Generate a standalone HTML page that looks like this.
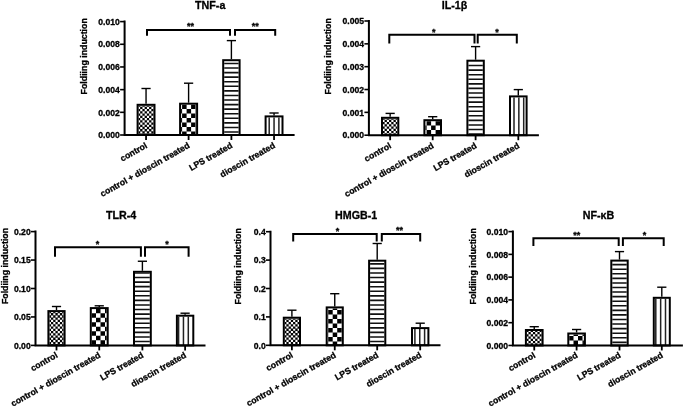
<!DOCTYPE html>
<html><head><meta charset="utf-8"><title>Folding induction charts</title>
<style>html,body{margin:0;padding:0;background:#fff;}body{width:685px;height:408px;overflow:hidden;}svg{display:block;}</style>
</head><body>
<svg width="685" height="408" viewBox="0 0 685 408">
<rect width="685" height="408" fill="#fff"/>
<g font-family='"Liberation Sans", Arial, sans-serif' font-weight="bold" fill="#000" stroke="#000" stroke-width="0.3">
<text x="210.2" y="8.8" font-size="10.7" text-anchor="middle">TNF-a</text>
<line x1="146.05" y1="88.5" x2="146.05" y2="103.8" stroke="#000" stroke-width="1.4"/>
<line x1="141.45" y1="88.5" x2="150.65" y2="88.5" stroke="#000" stroke-width="1.4"/>
<rect x="138.6" y="105.8" width="14.9" height="29.2" fill="#000" stroke="none"/><path d="M140.24 105.80H142.39V106.79H140.24ZM144.70 105.80H146.85V106.79H144.70ZM149.16 105.80H151.31V106.79H149.16ZM138.60 106.87H140.16V109.02H138.60ZM142.47 106.87H144.62V109.02H142.47ZM146.93 106.87H149.08V109.02H146.93ZM151.39 106.87H153.50V109.02H151.39ZM140.24 109.10H142.39V111.25H140.24ZM144.70 109.10H146.85V111.25H144.70ZM149.16 109.10H151.31V111.25H149.16ZM138.60 111.33H140.16V113.48H138.60ZM142.47 111.33H144.62V113.48H142.47ZM146.93 111.33H149.08V113.48H146.93ZM151.39 111.33H153.50V113.48H151.39ZM140.24 113.56H142.39V115.71H140.24ZM144.70 113.56H146.85V115.71H144.70ZM149.16 113.56H151.31V115.71H149.16ZM138.60 115.79H140.16V117.94H138.60ZM142.47 115.79H144.62V117.94H142.47ZM146.93 115.79H149.08V117.94H146.93ZM151.39 115.79H153.50V117.94H151.39ZM140.24 118.02H142.39V120.17H140.24ZM144.70 118.02H146.85V120.17H144.70ZM149.16 118.02H151.31V120.17H149.16ZM138.60 120.25H140.16V122.40H138.60ZM142.47 120.25H144.62V122.40H142.47ZM146.93 120.25H149.08V122.40H146.93ZM151.39 120.25H153.50V122.40H151.39ZM140.24 122.48H142.39V124.63H140.24ZM144.70 122.48H146.85V124.63H144.70ZM149.16 122.48H151.31V124.63H149.16ZM138.60 124.71H140.16V126.86H138.60ZM142.47 124.71H144.62V126.86H142.47ZM146.93 124.71H149.08V126.86H146.93ZM151.39 124.71H153.50V126.86H151.39ZM140.24 126.94H142.39V129.09H140.24ZM144.70 126.94H146.85V129.09H144.70ZM149.16 126.94H151.31V129.09H149.16ZM138.60 129.17H140.16V131.32H138.60ZM142.47 129.17H144.62V131.32H142.47ZM146.93 129.17H149.08V131.32H146.93ZM151.39 129.17H153.50V131.32H151.39ZM140.24 131.40H142.39V133.55H140.24ZM144.70 131.40H146.85V133.55H144.70ZM149.16 131.40H151.31V133.55H149.16ZM138.60 133.63H140.16V135.00H138.60ZM142.47 133.63H144.62V135.00H142.47ZM146.93 133.63H149.08V135.00H146.93ZM151.39 133.63H153.50V135.00H151.39Z" fill="#fff" stroke="none"/>
<rect x="137.6" y="104.8" width="16.9" height="30.2" fill="none" stroke="#000" stroke-width="2.0"/>
<line x1="146.05" y1="135" x2="146.05" y2="140" stroke="#000" stroke-width="1.8"/>
<text transform="translate(147.85,147.2) rotate(-29.5)" font-size="8.7" text-anchor="end">control</text>
<line x1="188.6" y1="83.2" x2="188.6" y2="102.7" stroke="#000" stroke-width="1.4"/>
<line x1="184" y1="83.2" x2="193.2" y2="83.2" stroke="#000" stroke-width="1.4"/>
<rect x="181.1" y="104.7" width="15" height="30.3" fill="#fff" stroke="none"/><path d="M182.10 104.70H186.60V108.90H182.10ZM191.10 104.70H195.60V108.90H191.10ZM181.10 108.90H182.10V113.40H181.10ZM186.60 108.90H191.10V113.40H186.60ZM195.60 108.90H196.10V113.40H195.60ZM182.10 113.40H186.60V117.90H182.10ZM191.10 113.40H195.60V117.90H191.10ZM181.10 117.90H182.10V122.40H181.10ZM186.60 117.90H191.10V122.40H186.60ZM195.60 117.90H196.10V122.40H195.60ZM182.10 122.40H186.60V126.90H182.10ZM191.10 122.40H195.60V126.90H191.10ZM181.10 126.90H182.10V131.40H181.10ZM186.60 126.90H191.10V131.40H186.60ZM195.60 126.90H196.10V131.40H195.60ZM182.10 131.40H186.60V135.00H182.10ZM191.10 131.40H195.60V135.00H191.10Z" fill="#000" stroke="none"/>
<rect x="180.1" y="103.7" width="17" height="31.3" fill="none" stroke="#000" stroke-width="2.0"/>
<line x1="188.6" y1="135" x2="188.6" y2="140" stroke="#000" stroke-width="1.8"/>
<text transform="translate(190.4,147.2) rotate(-29.5)" font-size="8.7" text-anchor="end">control + dioscin treated</text>
<line x1="231.4" y1="40.6" x2="231.4" y2="59.2" stroke="#000" stroke-width="1.4"/>
<line x1="226.8" y1="40.6" x2="236" y2="40.6" stroke="#000" stroke-width="1.4"/>
<rect x="224.2" y="61.2" width="14.4" height="73.8" fill="#fff" stroke="none"/><path d="M224.20 62.65H238.60V64.25H224.20ZM224.20 67.22H238.60V68.82H224.20ZM224.20 71.79H238.60V73.39H224.20ZM224.20 76.36H238.60V77.96H224.20ZM224.20 80.93H238.60V82.53H224.20ZM224.20 85.50H238.60V87.10H224.20ZM224.20 90.07H238.60V91.67H224.20ZM224.20 94.64H238.60V96.24H224.20ZM224.20 99.21H238.60V100.81H224.20ZM224.20 103.78H238.60V105.38H224.20ZM224.20 108.35H238.60V109.95H224.20ZM224.20 112.92H238.60V114.52H224.20ZM224.20 117.49H238.60V119.09H224.20ZM224.20 122.06H238.60V123.66H224.20ZM224.20 126.63H238.60V128.23H224.20ZM224.20 131.20H238.60V132.80H224.20Z" fill="#111" stroke="none"/>
<rect x="223.2" y="60.2" width="16.4" height="74.8" fill="none" stroke="#000" stroke-width="2.0"/>
<line x1="231.4" y1="135" x2="231.4" y2="140" stroke="#000" stroke-width="1.8"/>
<text transform="translate(233.2,147.2) rotate(-29.5)" font-size="8.7" text-anchor="end">LPS treated</text>
<line x1="274.05" y1="113" x2="274.05" y2="115.4" stroke="#000" stroke-width="1.4"/>
<line x1="269.45" y1="113" x2="278.65" y2="113" stroke="#000" stroke-width="1.4"/>
<rect x="266.6" y="117.4" width="14.9" height="17.6" fill="#fff" stroke="none"/><path d="M268.45 117.40H269.95V135.00H268.45ZM273.30 117.40H274.80V135.00H273.30ZM278.15 117.40H279.65V135.00H278.15Z" fill="#222" stroke="none"/>
<rect x="265.6" y="116.4" width="16.9" height="18.6" fill="none" stroke="#000" stroke-width="2.0"/>
<line x1="274.05" y1="135" x2="274.05" y2="140" stroke="#000" stroke-width="1.8"/>
<text transform="translate(275.85,147.2) rotate(-29.5)" font-size="8.7" text-anchor="end">dioscin treated</text>
<path d="M124.6 20.6V135H294.6" fill="none" stroke="#000" stroke-width="2.0"/>
<line x1="120.1" y1="135" x2="124.6" y2="135" stroke="#000" stroke-width="1.6"/>
<text x="119.8" y="138.2" font-size="8.6" text-anchor="end">0.000</text>
<line x1="120.1" y1="112.32" x2="124.6" y2="112.32" stroke="#000" stroke-width="1.6"/>
<text x="119.8" y="115.52" font-size="8.6" text-anchor="end">0.002</text>
<line x1="120.1" y1="89.64" x2="124.6" y2="89.64" stroke="#000" stroke-width="1.6"/>
<text x="119.8" y="92.84" font-size="8.6" text-anchor="end">0.004</text>
<line x1="120.1" y1="66.96" x2="124.6" y2="66.96" stroke="#000" stroke-width="1.6"/>
<text x="119.8" y="70.16" font-size="8.6" text-anchor="end">0.006</text>
<line x1="120.1" y1="44.28" x2="124.6" y2="44.28" stroke="#000" stroke-width="1.6"/>
<text x="119.8" y="47.48" font-size="8.6" text-anchor="end">0.008</text>
<line x1="120.1" y1="21.6" x2="124.6" y2="21.6" stroke="#000" stroke-width="1.6"/>
<text x="119.8" y="24.8" font-size="8.6" text-anchor="end">0.010</text>
<text transform="translate(86.6,56.3) rotate(-90)" font-size="8.8" text-anchor="middle">Foldiing induction</text>
<path d="M147 35.7V29.9H230V35.7" fill="none" stroke="#000" stroke-width="2.0"/>
<path d="M235 35.7V29.9H275.2V35.7" fill="none" stroke="#000" stroke-width="2.0"/>
<text x="190.4" y="28.7" font-size="9.0" text-anchor="middle">**</text>
<text x="255.3" y="28.5" font-size="9.0" text-anchor="middle">**</text>
<text x="454.5" y="8.8" font-size="10.7" text-anchor="middle">IL-1β</text>
<line x1="390.15" y1="113.4" x2="390.15" y2="116.8" stroke="#000" stroke-width="1.4"/>
<line x1="385.55" y1="113.4" x2="394.75" y2="113.4" stroke="#000" stroke-width="1.4"/>
<rect x="383" y="118.8" width="14.3" height="16.4" fill="#000" stroke="none"/><path d="M384.64 118.80H386.79V119.79H384.64ZM389.10 118.80H391.25V119.79H389.10ZM393.56 118.80H395.71V119.79H393.56ZM383.00 119.87H384.56V122.02H383.00ZM386.87 119.87H389.02V122.02H386.87ZM391.33 119.87H393.48V122.02H391.33ZM395.79 119.87H397.30V122.02H395.79ZM384.64 122.10H386.79V124.25H384.64ZM389.10 122.10H391.25V124.25H389.10ZM393.56 122.10H395.71V124.25H393.56ZM383.00 124.33H384.56V126.48H383.00ZM386.87 124.33H389.02V126.48H386.87ZM391.33 124.33H393.48V126.48H391.33ZM395.79 124.33H397.30V126.48H395.79ZM384.64 126.56H386.79V128.71H384.64ZM389.10 126.56H391.25V128.71H389.10ZM393.56 126.56H395.71V128.71H393.56ZM383.00 128.79H384.56V130.94H383.00ZM386.87 128.79H389.02V130.94H386.87ZM391.33 128.79H393.48V130.94H391.33ZM395.79 128.79H397.30V130.94H395.79ZM384.64 131.02H386.79V133.17H384.64ZM389.10 131.02H391.25V133.17H389.10ZM393.56 131.02H395.71V133.17H393.56ZM383.00 133.25H384.56V135.20H383.00ZM386.87 133.25H389.02V135.20H386.87ZM391.33 133.25H393.48V135.20H391.33ZM395.79 133.25H397.30V135.20H395.79Z" fill="#fff" stroke="none"/>
<rect x="382" y="117.8" width="16.3" height="17.4" fill="none" stroke="#000" stroke-width="2.0"/>
<line x1="390.15" y1="135.2" x2="390.15" y2="140.2" stroke="#000" stroke-width="1.8"/>
<text transform="translate(391.95,147.4) rotate(-29.5)" font-size="8.7" text-anchor="end">control</text>
<line x1="432.7" y1="116.7" x2="432.7" y2="119.2" stroke="#000" stroke-width="1.4"/>
<line x1="428.1" y1="116.7" x2="437.3" y2="116.7" stroke="#000" stroke-width="1.4"/>
<rect x="425.4" y="121.2" width="14.6" height="14" fill="#fff" stroke="none"/><path d="M426.60 121.20H431.10V125.50H426.60ZM435.60 121.20H440.00V125.50H435.60ZM425.40 125.50H426.60V130.00H425.40ZM431.10 125.50H435.60V130.00H431.10ZM426.60 130.00H431.10V134.50H426.60ZM435.60 130.00H440.00V134.50H435.60ZM425.40 134.50H426.60V135.20H425.40ZM431.10 134.50H435.60V135.20H431.10Z" fill="#000" stroke="none"/>
<rect x="424.4" y="120.2" width="16.6" height="15" fill="none" stroke="#000" stroke-width="2.0"/>
<line x1="432.7" y1="135.2" x2="432.7" y2="140.2" stroke="#000" stroke-width="1.8"/>
<text transform="translate(434.5,147.4) rotate(-29.5)" font-size="8.7" text-anchor="end">control + dioscin treated</text>
<line x1="475.6" y1="46.6" x2="475.6" y2="59.7" stroke="#000" stroke-width="1.4"/>
<line x1="471" y1="46.6" x2="480.2" y2="46.6" stroke="#000" stroke-width="1.4"/>
<rect x="468.4" y="61.7" width="14.4" height="73.5" fill="#fff" stroke="none"/><path d="M468.40 64.75H482.80V66.35H468.40ZM468.40 69.32H482.80V70.92H468.40ZM468.40 73.89H482.80V75.49H468.40ZM468.40 78.46H482.80V80.06H468.40ZM468.40 83.03H482.80V84.63H468.40ZM468.40 87.60H482.80V89.20H468.40ZM468.40 92.17H482.80V93.77H468.40ZM468.40 96.74H482.80V98.34H468.40ZM468.40 101.31H482.80V102.91H468.40ZM468.40 105.88H482.80V107.48H468.40ZM468.40 110.45H482.80V112.05H468.40ZM468.40 115.02H482.80V116.62H468.40ZM468.40 119.59H482.80V121.19H468.40ZM468.40 124.16H482.80V125.76H468.40ZM468.40 128.73H482.80V130.33H468.40ZM468.40 133.30H482.80V134.90H468.40Z" fill="#111" stroke="none"/>
<rect x="467.4" y="60.7" width="16.4" height="74.5" fill="none" stroke="#000" stroke-width="2.0"/>
<line x1="475.6" y1="135.2" x2="475.6" y2="140.2" stroke="#000" stroke-width="1.8"/>
<text transform="translate(477.4,147.4) rotate(-29.5)" font-size="8.7" text-anchor="end">LPS treated</text>
<line x1="518.3" y1="89.6" x2="518.3" y2="95.4" stroke="#000" stroke-width="1.4"/>
<line x1="513.7" y1="89.6" x2="522.9" y2="89.6" stroke="#000" stroke-width="1.4"/>
<rect x="511" y="97.4" width="14.6" height="37.8" fill="#fff" stroke="none"/><path d="M513.25 97.40H514.75V135.20H513.25ZM518.10 97.40H519.60V135.20H518.10ZM522.95 97.40H524.45V135.20H522.95Z" fill="#222" stroke="none"/>
<rect x="510" y="96.4" width="16.6" height="38.8" fill="none" stroke="#000" stroke-width="2.0"/>
<line x1="518.3" y1="135.2" x2="518.3" y2="140.2" stroke="#000" stroke-width="1.8"/>
<text transform="translate(520.1,147.4) rotate(-29.5)" font-size="8.7" text-anchor="end">dioscin treated</text>
<path d="M368.9 20V135.2H538.9" fill="none" stroke="#000" stroke-width="2.0"/>
<line x1="364.4" y1="135.2" x2="368.9" y2="135.2" stroke="#000" stroke-width="1.6"/>
<text x="364.1" y="138.4" font-size="8.6" text-anchor="end">0.000</text>
<line x1="364.4" y1="112.36" x2="368.9" y2="112.36" stroke="#000" stroke-width="1.6"/>
<text x="364.1" y="115.56" font-size="8.6" text-anchor="end">0.001</text>
<line x1="364.4" y1="89.52" x2="368.9" y2="89.52" stroke="#000" stroke-width="1.6"/>
<text x="364.1" y="92.72" font-size="8.6" text-anchor="end">0.002</text>
<line x1="364.4" y1="66.68" x2="368.9" y2="66.68" stroke="#000" stroke-width="1.6"/>
<text x="364.1" y="69.88" font-size="8.6" text-anchor="end">0.003</text>
<line x1="364.4" y1="43.84" x2="368.9" y2="43.84" stroke="#000" stroke-width="1.6"/>
<text x="364.1" y="47.04" font-size="8.6" text-anchor="end">0.004</text>
<line x1="364.4" y1="21" x2="368.9" y2="21" stroke="#000" stroke-width="1.6"/>
<text x="364.1" y="24.2" font-size="8.6" text-anchor="end">0.005</text>
<text transform="translate(330.8,56.3) rotate(-90)" font-size="8.8" text-anchor="middle">Foldiing induction</text>
<path d="M389.3 43.4V34.7H474.5V43.4" fill="none" stroke="#000" stroke-width="2.0"/>
<path d="M477.7 43.4V34.7H516.8V43.4" fill="none" stroke="#000" stroke-width="2.0"/>
<text x="433.7" y="35.1" font-size="9.0" text-anchor="middle">*</text>
<text x="497" y="34.7" font-size="9.0" text-anchor="middle">*</text>
<text x="121.1" y="218.8" font-size="10.7" text-anchor="middle">TLR-4</text>
<line x1="56.5" y1="306.5" x2="56.5" y2="310.1" stroke="#000" stroke-width="1.4"/>
<line x1="51.9" y1="306.5" x2="61.1" y2="306.5" stroke="#000" stroke-width="1.4"/>
<rect x="49.4" y="312.1" width="14.2" height="33.3" fill="#000" stroke="none"/><path d="M51.04 312.10H53.19V313.09H51.04ZM55.50 312.10H57.65V313.09H55.50ZM59.96 312.10H62.11V313.09H59.96ZM49.40 313.17H50.96V315.32H49.40ZM53.27 313.17H55.42V315.32H53.27ZM57.73 313.17H59.88V315.32H57.73ZM62.19 313.17H63.60V315.32H62.19ZM51.04 315.40H53.19V317.55H51.04ZM55.50 315.40H57.65V317.55H55.50ZM59.96 315.40H62.11V317.55H59.96ZM49.40 317.63H50.96V319.78H49.40ZM53.27 317.63H55.42V319.78H53.27ZM57.73 317.63H59.88V319.78H57.73ZM62.19 317.63H63.60V319.78H62.19ZM51.04 319.86H53.19V322.01H51.04ZM55.50 319.86H57.65V322.01H55.50ZM59.96 319.86H62.11V322.01H59.96ZM49.40 322.09H50.96V324.24H49.40ZM53.27 322.09H55.42V324.24H53.27ZM57.73 322.09H59.88V324.24H57.73ZM62.19 322.09H63.60V324.24H62.19ZM51.04 324.32H53.19V326.47H51.04ZM55.50 324.32H57.65V326.47H55.50ZM59.96 324.32H62.11V326.47H59.96ZM49.40 326.55H50.96V328.70H49.40ZM53.27 326.55H55.42V328.70H53.27ZM57.73 326.55H59.88V328.70H57.73ZM62.19 326.55H63.60V328.70H62.19ZM51.04 328.78H53.19V330.93H51.04ZM55.50 328.78H57.65V330.93H55.50ZM59.96 328.78H62.11V330.93H59.96ZM49.40 331.01H50.96V333.16H49.40ZM53.27 331.01H55.42V333.16H53.27ZM57.73 331.01H59.88V333.16H57.73ZM62.19 331.01H63.60V333.16H62.19ZM51.04 333.24H53.19V335.39H51.04ZM55.50 333.24H57.65V335.39H55.50ZM59.96 333.24H62.11V335.39H59.96ZM49.40 335.47H50.96V337.62H49.40ZM53.27 335.47H55.42V337.62H53.27ZM57.73 335.47H59.88V337.62H57.73ZM62.19 335.47H63.60V337.62H62.19ZM51.04 337.70H53.19V339.85H51.04ZM55.50 337.70H57.65V339.85H55.50ZM59.96 337.70H62.11V339.85H59.96ZM49.40 339.93H50.96V342.08H49.40ZM53.27 339.93H55.42V342.08H53.27ZM57.73 339.93H59.88V342.08H57.73ZM62.19 339.93H63.60V342.08H62.19ZM51.04 342.16H53.19V344.31H51.04ZM55.50 342.16H57.65V344.31H55.50ZM59.96 342.16H62.11V344.31H59.96ZM49.40 344.39H50.96V345.40H49.40ZM53.27 344.39H55.42V345.40H53.27ZM57.73 344.39H59.88V345.40H57.73ZM62.19 344.39H63.60V345.40H62.19Z" fill="#fff" stroke="none"/>
<rect x="48.4" y="311.1" width="16.2" height="34.3" fill="none" stroke="#000" stroke-width="2.0"/>
<line x1="56.5" y1="345.4" x2="56.5" y2="350.4" stroke="#000" stroke-width="1.8"/>
<text transform="translate(58.3,356.9) rotate(-29.5)" font-size="8.7" text-anchor="end">control</text>
<line x1="99.25" y1="305.8" x2="99.25" y2="307.1" stroke="#000" stroke-width="1.4"/>
<line x1="94.65" y1="305.8" x2="103.85" y2="305.8" stroke="#000" stroke-width="1.4"/>
<rect x="91.8" y="309.1" width="14.9" height="36.3" fill="#fff" stroke="none"/><path d="M96.00 309.10H100.50V313.30H96.00ZM105.00 309.10H106.70V313.30H105.00ZM91.80 313.30H96.00V317.80H91.80ZM100.50 313.30H105.00V317.80H100.50ZM96.00 317.80H100.50V322.30H96.00ZM105.00 317.80H106.70V322.30H105.00ZM91.80 322.30H96.00V326.80H91.80ZM100.50 322.30H105.00V326.80H100.50ZM96.00 326.80H100.50V331.30H96.00ZM105.00 326.80H106.70V331.30H105.00ZM91.80 331.30H96.00V335.80H91.80ZM100.50 331.30H105.00V335.80H100.50ZM96.00 335.80H100.50V340.30H96.00ZM105.00 335.80H106.70V340.30H105.00ZM91.80 340.30H96.00V344.80H91.80ZM100.50 340.30H105.00V344.80H100.50ZM96.00 344.80H100.50V345.40H96.00ZM105.00 344.80H106.70V345.40H105.00Z" fill="#000" stroke="none"/>
<rect x="90.8" y="308.1" width="16.9" height="37.3" fill="none" stroke="#000" stroke-width="2.0"/>
<line x1="99.25" y1="345.4" x2="99.25" y2="350.4" stroke="#000" stroke-width="1.8"/>
<text transform="translate(101.05,356.9) rotate(-29.5)" font-size="8.7" text-anchor="end">control + dioscin treated</text>
<line x1="142.4" y1="261.25" x2="142.4" y2="270.8" stroke="#000" stroke-width="1.4"/>
<line x1="137.8" y1="261.25" x2="147" y2="261.25" stroke="#000" stroke-width="1.4"/>
<rect x="135" y="272.8" width="14.8" height="72.6" fill="#fff" stroke="none"/><path d="M135.00 272.80H149.80V273.75H135.00ZM135.00 276.72H149.80V278.32H135.00ZM135.00 281.29H149.80V282.89H135.00ZM135.00 285.86H149.80V287.46H135.00ZM135.00 290.43H149.80V292.03H135.00ZM135.00 295.00H149.80V296.60H135.00ZM135.00 299.57H149.80V301.17H135.00ZM135.00 304.14H149.80V305.74H135.00ZM135.00 308.71H149.80V310.31H135.00ZM135.00 313.28H149.80V314.88H135.00ZM135.00 317.85H149.80V319.45H135.00ZM135.00 322.42H149.80V324.02H135.00ZM135.00 326.99H149.80V328.59H135.00ZM135.00 331.56H149.80V333.16H135.00ZM135.00 336.13H149.80V337.73H135.00ZM135.00 340.70H149.80V342.30H135.00ZM135.00 345.27H149.80V345.40H135.00Z" fill="#111" stroke="none"/>
<rect x="134" y="271.8" width="16.8" height="73.6" fill="none" stroke="#000" stroke-width="2.0"/>
<line x1="142.4" y1="345.4" x2="142.4" y2="350.4" stroke="#000" stroke-width="1.8"/>
<text transform="translate(144.2,356.9) rotate(-29.5)" font-size="8.7" text-anchor="end">LPS treated</text>
<line x1="185.1" y1="313.2" x2="185.1" y2="314.7" stroke="#000" stroke-width="1.4"/>
<line x1="180.5" y1="313.2" x2="189.7" y2="313.2" stroke="#000" stroke-width="1.4"/>
<rect x="177.9" y="316.7" width="14.4" height="28.7" fill="#fff" stroke="none"/><path d="M177.90 316.70H179.35V345.40H177.90ZM182.70 316.70H184.20V345.40H182.70ZM187.55 316.70H189.05V345.40H187.55Z" fill="#222" stroke="none"/>
<rect x="176.9" y="315.7" width="16.4" height="29.7" fill="none" stroke="#000" stroke-width="2.0"/>
<line x1="185.1" y1="345.4" x2="185.1" y2="350.4" stroke="#000" stroke-width="1.8"/>
<text transform="translate(186.9,356.9) rotate(-29.5)" font-size="8.7" text-anchor="end">dioscin treated</text>
<path d="M35.5 230.6V345.4H205.5" fill="none" stroke="#000" stroke-width="2.0"/>
<line x1="31" y1="345.4" x2="35.5" y2="345.4" stroke="#000" stroke-width="1.6"/>
<text x="30.7" y="348.6" font-size="8.6" text-anchor="end">0.00</text>
<line x1="31" y1="316.95" x2="35.5" y2="316.95" stroke="#000" stroke-width="1.6"/>
<text x="30.7" y="320.15" font-size="8.6" text-anchor="end">0.05</text>
<line x1="31" y1="288.5" x2="35.5" y2="288.5" stroke="#000" stroke-width="1.6"/>
<text x="30.7" y="291.7" font-size="8.6" text-anchor="end">0.10</text>
<line x1="31" y1="260.05" x2="35.5" y2="260.05" stroke="#000" stroke-width="1.6"/>
<text x="30.7" y="263.25" font-size="8.6" text-anchor="end">0.15</text>
<line x1="31" y1="231.6" x2="35.5" y2="231.6" stroke="#000" stroke-width="1.6"/>
<text x="30.7" y="234.8" font-size="8.6" text-anchor="end">0.20</text>
<text transform="translate(8.2,266) rotate(-90)" font-size="8.8" text-anchor="middle">Foldiing induction</text>
<path d="M55 256.7V247.2H140.9V256.7" fill="none" stroke="#000" stroke-width="2.0"/>
<path d="M145 256.7V247.2H188.6V256.7" fill="none" stroke="#000" stroke-width="2.0"/>
<text x="97.6" y="246.5" font-size="9.0" text-anchor="middle">*</text>
<text x="167.1" y="246.7" font-size="9.0" text-anchor="middle">*</text>
<text x="356.1" y="218.8" font-size="10.7" text-anchor="middle">HMGB-1</text>
<line x1="291.9" y1="310.2" x2="291.9" y2="316.7" stroke="#000" stroke-width="1.4"/>
<line x1="287.3" y1="310.2" x2="296.5" y2="310.2" stroke="#000" stroke-width="1.4"/>
<rect x="284.8" y="318.7" width="14.2" height="26.6" fill="#000" stroke="none"/><path d="M286.44 318.70H288.59V319.69H286.44ZM290.90 318.70H293.05V319.69H290.90ZM295.36 318.70H297.51V319.69H295.36ZM284.80 319.77H286.36V321.92H284.80ZM288.67 319.77H290.82V321.92H288.67ZM293.13 319.77H295.28V321.92H293.13ZM297.59 319.77H299.00V321.92H297.59ZM286.44 322.00H288.59V324.15H286.44ZM290.90 322.00H293.05V324.15H290.90ZM295.36 322.00H297.51V324.15H295.36ZM284.80 324.23H286.36V326.38H284.80ZM288.67 324.23H290.82V326.38H288.67ZM293.13 324.23H295.28V326.38H293.13ZM297.59 324.23H299.00V326.38H297.59ZM286.44 326.46H288.59V328.61H286.44ZM290.90 326.46H293.05V328.61H290.90ZM295.36 326.46H297.51V328.61H295.36ZM284.80 328.69H286.36V330.84H284.80ZM288.67 328.69H290.82V330.84H288.67ZM293.13 328.69H295.28V330.84H293.13ZM297.59 328.69H299.00V330.84H297.59ZM286.44 330.92H288.59V333.07H286.44ZM290.90 330.92H293.05V333.07H290.90ZM295.36 330.92H297.51V333.07H295.36ZM284.80 333.15H286.36V335.30H284.80ZM288.67 333.15H290.82V335.30H288.67ZM293.13 333.15H295.28V335.30H293.13ZM297.59 333.15H299.00V335.30H297.59ZM286.44 335.38H288.59V337.53H286.44ZM290.90 335.38H293.05V337.53H290.90ZM295.36 335.38H297.51V337.53H295.36ZM284.80 337.61H286.36V339.76H284.80ZM288.67 337.61H290.82V339.76H288.67ZM293.13 337.61H295.28V339.76H293.13ZM297.59 337.61H299.00V339.76H297.59ZM286.44 339.84H288.59V341.99H286.44ZM290.90 339.84H293.05V341.99H290.90ZM295.36 339.84H297.51V341.99H295.36ZM284.80 342.07H286.36V344.22H284.80ZM288.67 342.07H290.82V344.22H288.67ZM293.13 342.07H295.28V344.22H293.13ZM297.59 342.07H299.00V344.22H297.59ZM286.44 344.30H288.59V345.30H286.44ZM290.90 344.30H293.05V345.30H290.90ZM295.36 344.30H297.51V345.30H295.36Z" fill="#fff" stroke="none"/>
<rect x="283.8" y="317.7" width="16.2" height="27.6" fill="none" stroke="#000" stroke-width="2.0"/>
<line x1="291.9" y1="345.3" x2="291.9" y2="350.3" stroke="#000" stroke-width="1.8"/>
<text transform="translate(293.7,356.8) rotate(-29.5)" font-size="8.7" text-anchor="end">control</text>
<line x1="334.75" y1="293.7" x2="334.75" y2="306.4" stroke="#000" stroke-width="1.4"/>
<line x1="330.15" y1="293.7" x2="339.35" y2="293.7" stroke="#000" stroke-width="1.4"/>
<rect x="327.7" y="308.4" width="14.1" height="36.9" fill="#fff" stroke="none"/><path d="M327.70 308.40H328.20V310.10H327.70ZM332.70 308.40H337.20V310.10H332.70ZM341.70 308.40H341.80V310.10H341.70ZM328.20 310.10H332.70V314.60H328.20ZM337.20 310.10H341.70V314.60H337.20ZM327.70 314.60H328.20V319.10H327.70ZM332.70 314.60H337.20V319.10H332.70ZM341.70 314.60H341.80V319.10H341.70ZM328.20 319.10H332.70V323.60H328.20ZM337.20 319.10H341.70V323.60H337.20ZM327.70 323.60H328.20V328.10H327.70ZM332.70 323.60H337.20V328.10H332.70ZM341.70 323.60H341.80V328.10H341.70ZM328.20 328.10H332.70V332.60H328.20ZM337.20 328.10H341.70V332.60H337.20ZM327.70 332.60H328.20V337.10H327.70ZM332.70 332.60H337.20V337.10H332.70ZM341.70 332.60H341.80V337.10H341.70ZM328.20 337.10H332.70V341.60H328.20ZM337.20 337.10H341.70V341.60H337.20ZM327.70 341.60H328.20V345.30H327.70ZM332.70 341.60H337.20V345.30H332.70ZM341.70 341.60H341.80V345.30H341.70Z" fill="#000" stroke="none"/>
<rect x="326.7" y="307.4" width="16.1" height="37.9" fill="none" stroke="#000" stroke-width="2.0"/>
<line x1="334.75" y1="345.3" x2="334.75" y2="350.3" stroke="#000" stroke-width="1.8"/>
<text transform="translate(336.55,356.8) rotate(-29.5)" font-size="8.7" text-anchor="end">control + dioscin treated</text>
<line x1="377.2" y1="243.5" x2="377.2" y2="259.7" stroke="#000" stroke-width="1.4"/>
<line x1="372.6" y1="243.5" x2="381.8" y2="243.5" stroke="#000" stroke-width="1.4"/>
<rect x="370.1" y="261.7" width="14.2" height="83.6" fill="#fff" stroke="none"/><path d="M370.10 263.05H384.30V264.65H370.10ZM370.10 267.62H384.30V269.22H370.10ZM370.10 272.19H384.30V273.79H370.10ZM370.10 276.76H384.30V278.36H370.10ZM370.10 281.33H384.30V282.93H370.10ZM370.10 285.90H384.30V287.50H370.10ZM370.10 290.47H384.30V292.07H370.10ZM370.10 295.04H384.30V296.64H370.10ZM370.10 299.61H384.30V301.21H370.10ZM370.10 304.18H384.30V305.78H370.10ZM370.10 308.75H384.30V310.35H370.10ZM370.10 313.32H384.30V314.92H370.10ZM370.10 317.89H384.30V319.49H370.10ZM370.10 322.46H384.30V324.06H370.10ZM370.10 327.03H384.30V328.63H370.10ZM370.10 331.60H384.30V333.20H370.10ZM370.10 336.17H384.30V337.77H370.10ZM370.10 340.74H384.30V342.34H370.10Z" fill="#111" stroke="none"/>
<rect x="369.1" y="260.7" width="16.2" height="84.6" fill="none" stroke="#000" stroke-width="2.0"/>
<line x1="377.2" y1="345.3" x2="377.2" y2="350.3" stroke="#000" stroke-width="1.8"/>
<text transform="translate(379,356.8) rotate(-29.5)" font-size="8.7" text-anchor="end">LPS treated</text>
<line x1="420.2" y1="323.2" x2="420.2" y2="327.1" stroke="#000" stroke-width="1.4"/>
<line x1="415.6" y1="323.2" x2="424.8" y2="323.2" stroke="#000" stroke-width="1.4"/>
<rect x="413" y="329.1" width="14.4" height="16.2" fill="#fff" stroke="none"/><path d="M414.15 329.10H415.65V345.30H414.15ZM419.00 329.10H420.50V345.30H419.00ZM423.85 329.10H425.35V345.30H423.85Z" fill="#222" stroke="none"/>
<rect x="412" y="328.1" width="16.4" height="17.2" fill="none" stroke="#000" stroke-width="2.0"/>
<line x1="420.2" y1="345.3" x2="420.2" y2="350.3" stroke="#000" stroke-width="1.8"/>
<text transform="translate(422,356.8) rotate(-29.5)" font-size="8.7" text-anchor="end">dioscin treated</text>
<path d="M270.5 230.7V345.3H440.5" fill="none" stroke="#000" stroke-width="2.0"/>
<line x1="266" y1="345.3" x2="270.5" y2="345.3" stroke="#000" stroke-width="1.6"/>
<text x="265.7" y="348.5" font-size="8.6" text-anchor="end">0.0</text>
<line x1="266" y1="316.9" x2="270.5" y2="316.9" stroke="#000" stroke-width="1.6"/>
<text x="265.7" y="320.1" font-size="8.6" text-anchor="end">0.1</text>
<line x1="266" y1="288.5" x2="270.5" y2="288.5" stroke="#000" stroke-width="1.6"/>
<text x="265.7" y="291.7" font-size="8.6" text-anchor="end">0.2</text>
<line x1="266" y1="260.1" x2="270.5" y2="260.1" stroke="#000" stroke-width="1.6"/>
<text x="265.7" y="263.3" font-size="8.6" text-anchor="end">0.3</text>
<line x1="266" y1="231.7" x2="270.5" y2="231.7" stroke="#000" stroke-width="1.6"/>
<text x="265.7" y="234.9" font-size="8.6" text-anchor="end">0.4</text>
<text transform="translate(241.2,266.3) rotate(-90)" font-size="8.8" text-anchor="middle">Foldiing induction</text>
<path d="M293.2 241.4V234H376.7V241.4" fill="none" stroke="#000" stroke-width="2.0"/>
<path d="M381.8 241.4V234H420.2V241.4" fill="none" stroke="#000" stroke-width="2.0"/>
<text x="337.6" y="233.9" font-size="9.0" text-anchor="middle">*</text>
<text x="399.5" y="233.3" font-size="9.0" text-anchor="middle">**</text>
<text x="598.5" y="218.8" font-size="10.7" text-anchor="middle">NF-κB</text>
<line x1="534.25" y1="326.7" x2="534.25" y2="329" stroke="#000" stroke-width="1.4"/>
<line x1="529.65" y1="326.7" x2="538.85" y2="326.7" stroke="#000" stroke-width="1.4"/>
<rect x="526.9" y="331" width="14.7" height="14.45" fill="#000" stroke="none"/><path d="M528.54 331.00H530.69V331.99H528.54ZM533.00 331.00H535.15V331.99H533.00ZM537.46 331.00H539.61V331.99H537.46ZM526.90 332.07H528.46V334.22H526.90ZM530.77 332.07H532.92V334.22H530.77ZM535.23 332.07H537.38V334.22H535.23ZM539.69 332.07H541.60V334.22H539.69ZM528.54 334.30H530.69V336.45H528.54ZM533.00 334.30H535.15V336.45H533.00ZM537.46 334.30H539.61V336.45H537.46ZM526.90 336.53H528.46V338.68H526.90ZM530.77 336.53H532.92V338.68H530.77ZM535.23 336.53H537.38V338.68H535.23ZM539.69 336.53H541.60V338.68H539.69ZM528.54 338.76H530.69V340.91H528.54ZM533.00 338.76H535.15V340.91H533.00ZM537.46 338.76H539.61V340.91H537.46ZM526.90 340.99H528.46V343.14H526.90ZM530.77 340.99H532.92V343.14H530.77ZM535.23 340.99H537.38V343.14H535.23ZM539.69 340.99H541.60V343.14H539.69ZM528.54 343.22H530.69V345.37H528.54ZM533.00 343.22H535.15V345.37H533.00ZM537.46 343.22H539.61V345.37H537.46Z" fill="#fff" stroke="none"/>
<rect x="525.9" y="330" width="16.7" height="15.45" fill="none" stroke="#000" stroke-width="2.0"/>
<line x1="534.25" y1="345.45" x2="534.25" y2="350.45" stroke="#000" stroke-width="1.8"/>
<text transform="translate(536.05,356.95) rotate(-29.5)" font-size="8.7" text-anchor="end">control</text>
<line x1="576.6" y1="329.5" x2="576.6" y2="332.5" stroke="#000" stroke-width="1.4"/>
<line x1="572" y1="329.5" x2="581.2" y2="329.5" stroke="#000" stroke-width="1.4"/>
<rect x="569.3" y="334.5" width="14.6" height="10.95" fill="#fff" stroke="none"/><path d="M573.50 334.50H578.00V335.90H573.50ZM582.50 334.50H583.90V335.90H582.50ZM569.30 335.90H573.50V340.40H569.30ZM578.00 335.90H582.50V340.40H578.00ZM573.50 340.40H578.00V344.90H573.50ZM582.50 340.40H583.90V344.90H582.50ZM569.30 344.90H573.50V345.45H569.30ZM578.00 344.90H582.50V345.45H578.00Z" fill="#000" stroke="none"/>
<rect x="568.3" y="333.5" width="16.6" height="11.95" fill="none" stroke="#000" stroke-width="2.0"/>
<line x1="576.6" y1="345.45" x2="576.6" y2="350.45" stroke="#000" stroke-width="1.8"/>
<text transform="translate(578.4,356.95) rotate(-29.5)" font-size="8.7" text-anchor="end">control + dioscin treated</text>
<line x1="619.5" y1="251.6" x2="619.5" y2="259.6" stroke="#000" stroke-width="1.4"/>
<line x1="614.9" y1="251.6" x2="624.1" y2="251.6" stroke="#000" stroke-width="1.4"/>
<rect x="612.3" y="261.6" width="14.4" height="83.85" fill="#fff" stroke="none"/><path d="M612.30 263.85H626.70V265.45H612.30ZM612.30 268.42H626.70V270.02H612.30ZM612.30 272.99H626.70V274.59H612.30ZM612.30 277.56H626.70V279.16H612.30ZM612.30 282.13H626.70V283.73H612.30ZM612.30 286.70H626.70V288.30H612.30ZM612.30 291.27H626.70V292.87H612.30ZM612.30 295.84H626.70V297.44H612.30ZM612.30 300.41H626.70V302.01H612.30ZM612.30 304.98H626.70V306.58H612.30ZM612.30 309.55H626.70V311.15H612.30ZM612.30 314.12H626.70V315.72H612.30ZM612.30 318.69H626.70V320.29H612.30ZM612.30 323.26H626.70V324.86H612.30ZM612.30 327.83H626.70V329.43H612.30ZM612.30 332.40H626.70V334.00H612.30ZM612.30 336.97H626.70V338.57H612.30ZM612.30 341.54H626.70V343.14H612.30Z" fill="#111" stroke="none"/>
<rect x="611.3" y="260.6" width="16.4" height="84.85" fill="none" stroke="#000" stroke-width="2.0"/>
<line x1="619.5" y1="345.45" x2="619.5" y2="350.45" stroke="#000" stroke-width="1.8"/>
<text transform="translate(621.3,356.95) rotate(-29.5)" font-size="8.7" text-anchor="end">LPS treated</text>
<line x1="661.8" y1="287.2" x2="661.8" y2="296.8" stroke="#000" stroke-width="1.4"/>
<line x1="657.2" y1="287.2" x2="666.4" y2="287.2" stroke="#000" stroke-width="1.4"/>
<rect x="654.8" y="298.8" width="14" height="46.65" fill="#fff" stroke="none"/><path d="M655.05 298.80H656.55V345.45H655.05ZM659.90 298.80H661.40V345.45H659.90ZM664.75 298.80H666.25V345.45H664.75Z" fill="#222" stroke="none"/>
<rect x="653.8" y="297.8" width="16" height="47.65" fill="none" stroke="#000" stroke-width="2.0"/>
<line x1="661.8" y1="345.45" x2="661.8" y2="350.45" stroke="#000" stroke-width="1.8"/>
<text transform="translate(663.6,356.95) rotate(-29.5)" font-size="8.7" text-anchor="end">dioscin treated</text>
<path d="M512.9 230.6V345.45H682.9" fill="none" stroke="#000" stroke-width="2.0"/>
<line x1="508.4" y1="345.45" x2="512.9" y2="345.45" stroke="#000" stroke-width="1.6"/>
<text x="508.1" y="348.65" font-size="8.6" text-anchor="end">0.000</text>
<line x1="508.4" y1="322.68" x2="512.9" y2="322.68" stroke="#000" stroke-width="1.6"/>
<text x="508.1" y="325.88" font-size="8.6" text-anchor="end">0.002</text>
<line x1="508.4" y1="299.91" x2="512.9" y2="299.91" stroke="#000" stroke-width="1.6"/>
<text x="508.1" y="303.11" font-size="8.6" text-anchor="end">0.004</text>
<line x1="508.4" y1="277.14" x2="512.9" y2="277.14" stroke="#000" stroke-width="1.6"/>
<text x="508.1" y="280.34" font-size="8.6" text-anchor="end">0.006</text>
<line x1="508.4" y1="254.37" x2="512.9" y2="254.37" stroke="#000" stroke-width="1.6"/>
<text x="508.1" y="257.57" font-size="8.6" text-anchor="end">0.008</text>
<line x1="508.4" y1="231.6" x2="512.9" y2="231.6" stroke="#000" stroke-width="1.6"/>
<text x="508.1" y="234.8" font-size="8.6" text-anchor="end">0.010</text>
<text transform="translate(475.8,266.3) rotate(-90)" font-size="8.8" text-anchor="middle">Foldiing induction</text>
<path d="M533.4 245.9V238.3H618.7V245.9" fill="none" stroke="#000" stroke-width="2.0"/>
<path d="M622.9 245.9V238.3H663.7V245.9" fill="none" stroke="#000" stroke-width="2.0"/>
<text x="576.8" y="237.9" font-size="9.0" text-anchor="middle">**</text>
<text x="644.5" y="238.3" font-size="9.0" text-anchor="middle">*</text>
</g></svg>
</body></html>
